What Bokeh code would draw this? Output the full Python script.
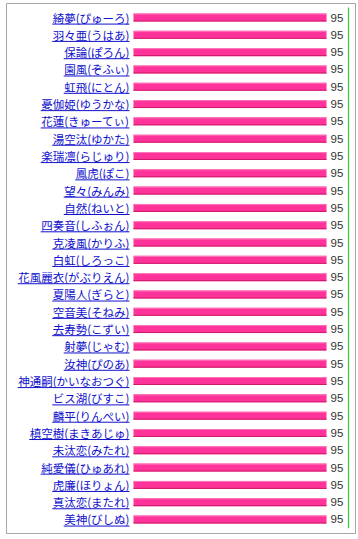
from bokeh.plotting import figure
from bokeh.models import Range1d, FactorRange, ColumnDataSource
from bokeh.transform import dodge
from bokeh.core.properties import value
from bokeh.embed import file_html
from bokeh.resources import INLINE

names = [
    "綺夢(ぴゅーろ)", "羽々亜(うはあ)", "保論(ぽろん)", "園風(ぞふぃ)",
    "虹飛(にとん)", "憂伽姫(ゆうかな)", "花蓮(きゅーてぃ)", "湯空汰(ゆかた)",
    "楽瑞凛(らじゅり)", "鳳虎(ぽこ)", "望々(みんみ)", "自然(ねいと)",
    "四奏音(しふぉん)", "克凌風(かりふ)", "白虹(しろっこ)", "花風麗衣(がぶりえん)",
    "夏陽人(ぎらと)", "空音美(そねみ)", "去寿勢(こずい)", "射夢(じゃむ)",
    "汝神(ぴのあ)", "神通嗣(かいなおつぐ)", "ビス湖(びすこ)", "麟平(りんぺい)",
    "槙空樹(まきあじゅ)", "未汰恋(みたれ)", "純愛儀(ひゅあれ)", "虎廉(ほりょん)",
    "真汰恋(またれ)", "美神(びしぬ)",
]
scores = [95, 95, 95, 95, 95, 95, 95, 95, 95, 95,
          95, 95, 95, 95, 95, 95, 95, 95, 95, 95,
          95, 95, 95, 95, 95, 95, 95, 95, 95, 95]

W, H = 358, 539
F_LEFT, F_RIGHT, F_TOP, F_BOTTOM = 6, 355, 3, 533
BAR0, BAR95 = 133, 326
k = (BAR95 - BAR0) / 95.0
LABEL_PX = 11.5
GAP = 4


def text_width(s):
    return sum(LABEL_PX * (0.36 if ord(c) < 128 else 1.0) for c in s)


n = len(names)
row_px = 17.31
pad_units = ((F_BOTTOM - F_TOP) / row_px - n)
y_range = FactorRange(factors=names[::-1], range_padding=pad_units / n,
                      range_padding_units="percent")

p = figure(width=W, height=H, output_backend="svg", toolbar_location=None,
           x_range=Range1d((F_LEFT - BAR0) / k, (F_RIGHT - BAR0) / k),
           y_range=y_range, x_axis_location=None, y_axis_location=None,
           min_border_left=F_LEFT, min_border_right=W - F_RIGHT,
           min_border_top=F_TOP, min_border_bottom=H - F_BOTTOM)
p.extra_x_ranges = {"px": Range1d(F_LEFT, F_RIGHT)}
p.xgrid.visible = False
p.ygrid.visible = False
p.outline_line_color = "#a6a6a6"
p.outline_line_width = 1
p.background_fill_color = "white"
p.border_fill_color = "white"

label_right = BAR0 - GAP
src = ColumnDataSource(dict(
    name=names,
    score=scores,
    zero=[0] * n,
    txt=[str(s) for s in scores],
    ul0=[label_right - text_width(s) for s in names],
    ul1=[label_right] * n,
))

bar_h = 8 / row_px
p.hbar(y="name", left="zero", right="score", height=bar_h, source=src,
       fill_color="#ff3399", line_color=None)
p.segment(x0="zero", x1="score", y0=dodge("name", bar_h / 2 - 0.03, range=y_range),
          y1=dodge("name", bar_h / 2 - 0.03, range=y_range), source=src,
          line_color="#ff77bb", line_width=1)
p.segment(x0="zero", x1="score", y0=dodge("name", -bar_h / 2 + 0.03, range=y_range),
          y1=dodge("name", -bar_h / 2 + 0.03, range=y_range), source=src,
          line_color="#cc1a6a", line_width=1)

p.text(x="zero", y="name", text="name", source=src, x_offset=-GAP,
       text_align="right", text_baseline="middle",
       text_font=value("Noto Sans CJK JP"), text_font_size=f"{LABEL_PX}px",
       text_color="#1010cc")
p.segment(x0="ul0", x1="ul1", y0=dodge("name", -0.38, range=y_range),
          y1=dodge("name", -0.38, range=y_range), source=src,
          x_range_name="px", line_color="#1010cc", line_width=1)

p.text(x="score", y="name", text="txt", source=src, x_offset=GAP,
       text_align="left", text_baseline="middle",
       text_font=value("Liberation Sans"), text_font_size="11.5px",
       text_color="#333333")

p.segment(x0=[348], x1=[348], y0=[0], y1=[n + 0.08], x_range_name="px",
          line_color="#33cc33", line_width=1.2)

open("out.html", "w").write(file_html(p, INLINE))
